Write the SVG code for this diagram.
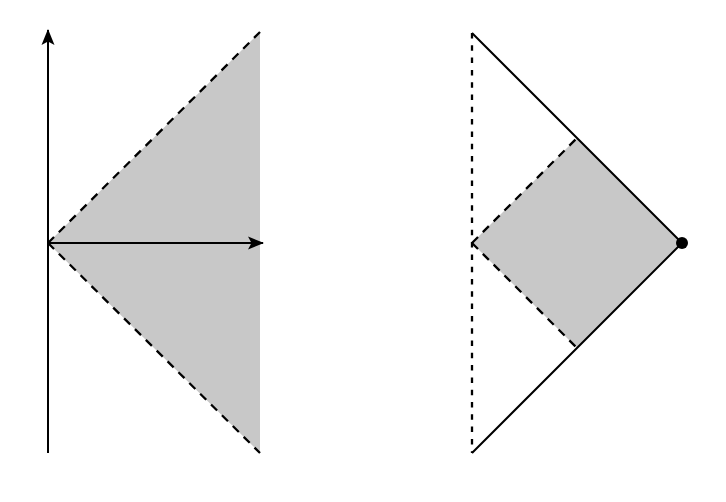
<svg xmlns="http://www.w3.org/2000/svg" width="726" height="502" viewBox="0 0 726 502">
<defs>
<style>
.fill{fill:#c8c8c8;stroke:none}
.solid{stroke:#000;stroke-width:2;fill:none}
.dash{stroke:#000;stroke-width:2.3;fill:none;stroke-dasharray:8.5 6.8}
.vdash{stroke:#000;stroke-width:2.3;fill:none;stroke-dasharray:5.5 6.8}
</style>
<marker id="arr" markerWidth="18" markerHeight="16" refX="15" refY="8" orient="auto" markerUnits="userSpaceOnUse">
<path d="M0,1.5 L16,8 L0,14.5 L3.5,8 Z" fill="#000"/>
</marker>
</defs>
<g id="left">
<polygon class="fill" points="48,243 260,32 260,453"/>
</g>
<g id="right">
<polygon class="fill" points="472,243 577,138 682,243 577,348"/>
<circle cx="682" cy="243" r="6" fill="#000"/>
</g>
<g id="connectors">
<line class="solid" x1="48" y1="453" x2="48" y2="30" marker-end="url(#arr)"/>
<line class="solid" x1="48" y1="243" x2="263" y2="243" marker-end="url(#arr)"/>
<line class="dash" x1="48" y1="243" x2="260" y2="32"/>
<line class="dash" x1="48" y1="243" x2="260" y2="453"/>
<line class="vdash" x1="472" y1="33" x2="472" y2="453"/>
<polyline class="solid" points="472,33 682,243 472,453"/>
<line class="dash" x1="472" y1="243" x2="577" y2="138"/>
<line class="dash" x1="472" y1="243" x2="577" y2="348"/>
</g>
</svg>
